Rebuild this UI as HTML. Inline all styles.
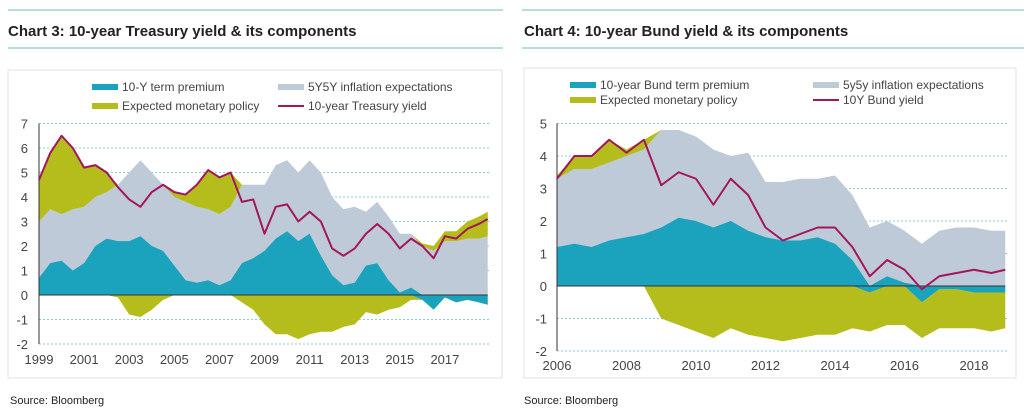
<!DOCTYPE html>
<html><head><meta charset="utf-8">
<style>
body{margin:0;background:#fff;font-family:"Liberation Sans",sans-serif;}
svg{display:block}
</style></head>
<body>
<svg id="root" width="1024" height="410" xmlns="http://www.w3.org/2000/svg">
  <line x1="8" y1="10" x2="503" y2="10" stroke="#9fd1da" stroke-width="1.5"/>
  <line x1="522" y1="10" x2="1024" y2="10" stroke="#9fd1da" stroke-width="1.5"/>
  <text x="8" y="36" font-size="15" font-weight="bold" fill="#222">Chart 3: 10-year Treasury yield &amp; its components</text>
  <text x="524" y="36" font-size="15" font-weight="bold" fill="#222">Chart 4: 10-year Bund yield &amp; its components</text>
  <line x1="8" y1="48" x2="503" y2="48" stroke="#9fd1da" stroke-width="1.5"/>
  <line x1="522" y1="48" x2="1024" y2="48" stroke="#9fd1da" stroke-width="1.5"/>
  <rect x="8" y="70" width="494" height="308" fill="#fff" stroke="#e2e2e2"/>
  <rect x="524" y="68" width="492" height="310" fill="#fff" stroke="#e2e2e2"/>
  <text x="10" y="404" font-size="11" fill="#222">Source: Bloomberg</text>
  <text x="524" y="404" font-size="11" fill="#222">Source: Bloomberg</text>

  <!-- legends -->
  <g font-size="12" fill="#444">
    <rect x="92" y="84" width="26" height="6" fill="#1ba3bd"/>
    <text x="122" y="91">10-Y term premium</text>
    <rect x="278" y="84" width="26" height="6" fill="#bfcad8"/>
    <text x="308" y="91">5Y5Y inflation expectations</text>
    <rect x="92" y="103" width="26" height="6" fill="#b4bd1c"/>
    <text x="122" y="110">Expected monetary policy</text>
    <line x1="278" y1="106" x2="304" y2="106" stroke="#a3165c" stroke-width="2"/>
    <text x="308" y="110">10-year Treasury yield</text>
  </g>
  <g font-size="12" fill="#444">
    <rect x="570" y="82" width="26" height="6" fill="#1ba3bd"/>
    <text x="600" y="89">10-year Bund term premium</text>
    <rect x="813" y="82" width="26" height="6" fill="#bfcad8"/>
    <text x="843" y="89">5y5y inflation expectations</text>
    <rect x="570" y="97" width="26" height="6" fill="#b4bd1c"/>
    <text x="600" y="104">Expected monetary policy</text>
    <line x1="813" y1="100" x2="839" y2="100" stroke="#a3165c" stroke-width="2"/>
    <text x="843" y="104">10Y Bund yield</text>
  </g>
  <g id="c3"></g>
  <g id="c4"></g>
</svg>
<script>
// ---- Chart 3 data (US) ----
const usDates = [1999,1999.5,2000,2000.5,2001,2001.5,2002,2002.5,2003,2003.5,2004,2004.5,2005,2005.5,2006,2006.5,2007,2007.5,2008,2008.5,2009,2009.5,2010,2010.5,2011,2011.5,2012,2012.5,2013,2013.5,2014,2014.5,2015,2015.5,2016,2016.5,2017,2017.5,2018,2018.5,2018.9];
const usYield = [4.7,5.8,6.5,6.0,5.2,5.3,5.0,4.4,3.9,3.6,4.2,4.5,4.2,4.1,4.5,5.1,4.8,5.0,3.8,3.9,2.5,3.6,3.7,3.0,3.4,3.0,1.9,1.6,1.9,2.5,2.9,2.5,1.9,2.3,2.0,1.5,2.4,2.3,2.7,2.9,3.1];
const usTermPremium = [0.7,1.3,1.4,1.0,1.3,2.0,2.3,2.2,2.2,2.4,2.0,1.8,1.2,0.6,0.5,0.6,0.4,0.6,1.3,1.5,1.8,2.3,2.6,2.2,2.5,1.6,0.8,0.4,0.5,1.2,1.3,0.6,0.1,0.3,-0.2,-0.6,-0.1,-0.3,-0.2,-0.3,-0.4];
const usInflation = [2.3,2.2,1.9,2.5,2.3,2.0,1.9,2.3,2.8,3.1,3.0,2.7,2.8,3.2,3.1,2.9,2.9,3.0,3.2,3.0,2.7,3.0,2.9,2.8,3.0,3.4,3.2,3.1,3.1,2.2,2.5,2.6,2.4,2.2,2.0,1.8,2.2,2.2,2.3,2.3,2.4];
const usPolicy = [1.7,2.3,3.2,2.5,1.6,1.3,0.8,-0.1,-0.8,-0.9,-0.6,-0.2,0.2,0.3,0.9,1.6,1.5,1.4,-0.3,-0.6,-1.2,-1.6,-1.6,-1.8,-1.6,-1.5,-1.5,-1.3,-1.2,-0.7,-0.8,-0.6,-0.5,-0.2,0.1,0.2,0.4,0.4,0.7,0.9,1.0];
const usYTicks = [7,6,5,4,3,2,1,0,-1,-2];
const usXTicks = [1999,2001,2003,2005,2007,2009,2011,2013,2015,2017];
// ---- Chart 4 data (Germany) ----
const deDates = [2006,2006.5,2007,2007.5,2008,2008.5,2009,2009.5,2010,2010.5,2011,2011.5,2012,2012.5,2013,2013.5,2014,2014.5,2015,2015.5,2016,2016.5,2017,2017.5,2018,2018.5,2018.9];
const deYield = [3.3,4.0,4.0,4.5,4.1,4.5,3.1,3.5,3.3,2.5,3.3,2.8,1.8,1.4,1.6,1.8,1.8,1.2,0.3,0.8,0.5,-0.1,0.3,0.4,0.5,0.4,0.5];
const deTermPremium = [1.2,1.3,1.2,1.4,1.5,1.6,1.8,2.1,2.0,1.8,2.0,1.7,1.5,1.4,1.4,1.5,1.3,0.8,-0.2,0.3,0.1,-0.5,-0.1,-0.1,-0.2,-0.2,-0.2];
const deInflation = [2.1,2.3,2.4,2.4,2.5,2.6,3.0,2.7,2.6,2.4,2.0,2.4,1.7,1.8,1.9,1.8,2.1,2.0,1.8,1.7,1.6,1.3,1.7,1.8,1.8,1.7,1.7];
const dePolicy = [0.1,0.4,0.4,0.7,0.2,0.3,-1.0,-1.2,-1.4,-1.6,-1.3,-1.5,-1.6,-1.7,-1.6,-1.5,-1.5,-1.3,-1.2,-1.2,-1.2,-1.1,-1.2,-1.2,-1.1,-1.2,-1.1];
const deYTicks = [5,4,3,2,1,0,-1,-2];
const deXTicks = [2006,2008,2010,2012,2014,2016,2018];

const NS = 'http://www.w3.org/2000/svg';
function mk(parent, tag, attrs){const e=document.createElementNS(NS,tag);for(const k in attrs)e.setAttribute(k,attrs[k]);parent.appendChild(e);return e;}

function draw(g, cfg, dates, yld, tp, infl, pol, yTicks, xTicks, prefix){
  const X = d => cfg.x0 + (d - cfg.d0) * cfg.px;
  const Y = v => cfg.y0 - v * cfg.py;
  const xr = X(dates[dates.length-1]);
  // grid
  yTicks.forEach(t=>{
    if(t!==0){
      const l=mk(g,'line',{x1:cfg.x0,x2:cfg.gx,y1:Y(t),y2:Y(t),stroke:'#8fcbd6','stroke-dasharray':'2,2','stroke-width':1});
      
      
    }
    const tx=mk(g,'text',{x:cfg.lx,y:Y(t)+5,'font-size':13,fill:'#444','text-anchor':'end'});
    tx.textContent=t;
    
    
  });
  xTicks.forEach(t=>{
    const tx=mk(g,'text',{x:X(t),y:cfg.xly,'font-size':13,fill:'#444','text-anchor':'middle'});
    tx.textContent=t;
    
    
  });
  const band = (lo, hi) => {
    let top = dates.map((d,i)=>X(d)+','+Y(hi[i])).join(' ');
    let bot = dates.slice().reverse().map((d,j)=>{const i=dates.length-1-j;return X(d)+','+Y(lo[i]);}).join(' ');
    return top+' '+bot;
  };
  const zero = dates.map(()=>0);
  const tpPos = tp.map(v=>Math.max(v,0));
  const tpNeg = tp.map(v=>Math.min(v,0));
  const grayTop = infl.map((v,i)=>tpPos[i]+v);
  const polPosTop = pol.map((v,i)=>grayTop[i]+Math.max(v,0));
  const polNegBot = pol.map((v,i)=>tpNeg[i]+Math.min(v,0));
  let p;
  p=mk(g,'polygon',{points:band(zero,grayTop),fill:'#bfcad8'});
  
  
  p=mk(g,'polygon',{points:band(grayTop,polPosTop),fill:'#b4bd1c'});
  
  
  p=mk(g,'polygon',{points:band(tpNeg,polNegBot),fill:'#b4bd1c'});
  
  
  p=mk(g,'polygon',{points:band(tpNeg,tpPos),fill:'#1ba3bd'});
  
  
  p=mk(g,'line',{x1:cfg.x0,x2:xr,y1:Y(0),y2:Y(0),stroke:'#333','stroke-width':1});
  
  
  p=mk(g,'line',{x1:cfg.x0,x2:cfg.x0,y1:Y(yTicks[0]),y2:Y(yTicks[yTicks.length-1]),stroke:'#333','stroke-width':1});
  
  
  p=mk(g,'polyline',{points:dates.map((d,i)=>X(d)+','+Y(yld[i])).join(' '),fill:'none',stroke:'#a3165c','stroke-width':2,'stroke-linejoin':'round'});
  
  
}
draw(document.getElementById('c3'),{x0:39,d0:1999,px:22.55,y0:295,py:24.5,gx:490,lx:28,xly:364},usDates,usYield,usTermPremium,usInflation,usPolicy,usYTicks,usXTicks,'chart3');
draw(document.getElementById('c4'),{x0:557,d0:2006,px:34.75,y0:286,py:32.5,gx:1008,lx:547,xly:370},deDates,deYield,deTermPremium,deInflation,dePolicy,deYTicks,deXTicks,'chart4');
</script>
</body></html>
